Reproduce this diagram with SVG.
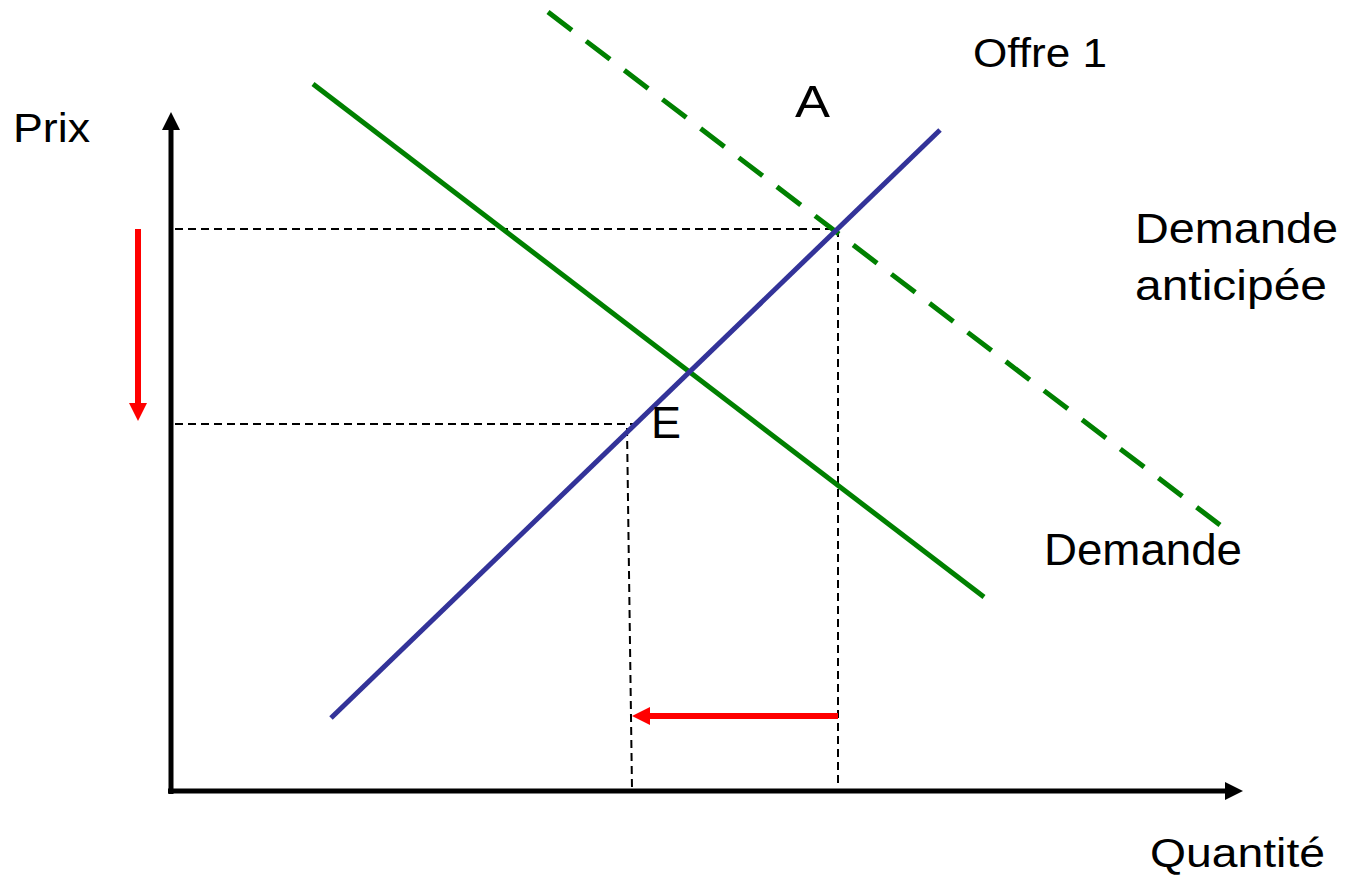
<svg xmlns="http://www.w3.org/2000/svg" width="1348" height="880" viewBox="0 0 1348 880">
<style>
.lbl{font-family:"Liberation Sans",Arial,sans-serif;fill:#000}
.axis{stroke:#000;stroke-width:5;fill:none}
.guide{stroke:#000;stroke-width:2;stroke-dasharray:8 5;fill:none}
.supply{stroke:#333399;stroke-width:5;fill:none}
.demand{stroke:#008000;stroke-width:5;fill:none}
.demandA{stroke:#008000;stroke-width:5;fill:none;stroke-dasharray:30 18}
.move{stroke:#ff0000;stroke-width:6;fill:none}
</style>
<defs>
<marker id="ahBlack" markerUnits="userSpaceOnUse" markerWidth="18" markerHeight="18" refX="0" refY="9" orient="auto" viewBox="0 0 18 18">
<path d="M0,0 L18,9 L0,18 z" fill="#000"/>
</marker>
<marker id="ahRed" markerUnits="userSpaceOnUse" markerWidth="18" markerHeight="18" refX="0" refY="9" orient="auto" viewBox="0 0 18 18">
<path d="M0,0 L18,9 L0,18 z" fill="#ff0000"/>
</marker>
</defs>
<rect width="1348" height="880" fill="#fff"/>
<g id="connectors">
<line class="guide" x1="175" y1="229" x2="838" y2="229"/>
<line class="guide" x1="838" y1="229" x2="838" y2="785"/>
<line class="guide" x1="175" y1="424" x2="634" y2="424"/>
<line class="guide" x1="627" y1="428" x2="632" y2="789"/>
<line class="demandA" x1="548" y1="12" x2="1220" y2="525"/>
<line class="demand" x1="313" y1="84" x2="984" y2="597"/>
<line class="supply" x1="331" y1="718" x2="940" y2="130"/>
<line class="axis" x1="171" y1="794" x2="171" y2="130" marker-end="url(#ahBlack)"/>
<line class="axis" x1="168" y1="791" x2="1225" y2="791" marker-end="url(#ahBlack)"/>
<line class="move" x1="138" y1="229" x2="138" y2="403" marker-end="url(#ahRed)"/>
<line class="move" x1="838" y1="716" x2="650" y2="716" marker-end="url(#ahRed)"/>
</g>
<g id="prix"><text class="lbl" x="13" y="142" font-size="40" textLength="77" lengthAdjust="spacingAndGlyphs">Prix</text></g>
<g id="quantite"><text class="lbl" x="1150" y="867" font-size="40" textLength="175" lengthAdjust="spacingAndGlyphs">Quantité</text></g>
<g id="offre1"><text class="lbl" x="973" y="67" font-size="40" textLength="134" lengthAdjust="spacingAndGlyphs">Offre 1</text></g>
<g id="pointA"><text class="lbl" x="795" y="117" font-size="45" textLength="35" lengthAdjust="spacingAndGlyphs">A</text></g>
<g id="pointE"><text class="lbl" x="651" y="438" font-size="45" textLength="30" lengthAdjust="spacingAndGlyphs">E</text></g>
<g id="demandeAnticipee">
<text class="lbl" x="1135" y="243" font-size="43" textLength="203" lengthAdjust="spacingAndGlyphs">Demande</text>
<text class="lbl" x="1135" y="300" font-size="43" textLength="192" lengthAdjust="spacingAndGlyphs">anticipée</text>
</g>
<g id="demande"><text class="lbl" x="1044" y="565" font-size="44" textLength="198" lengthAdjust="spacingAndGlyphs">Demande</text></g>
</svg>
